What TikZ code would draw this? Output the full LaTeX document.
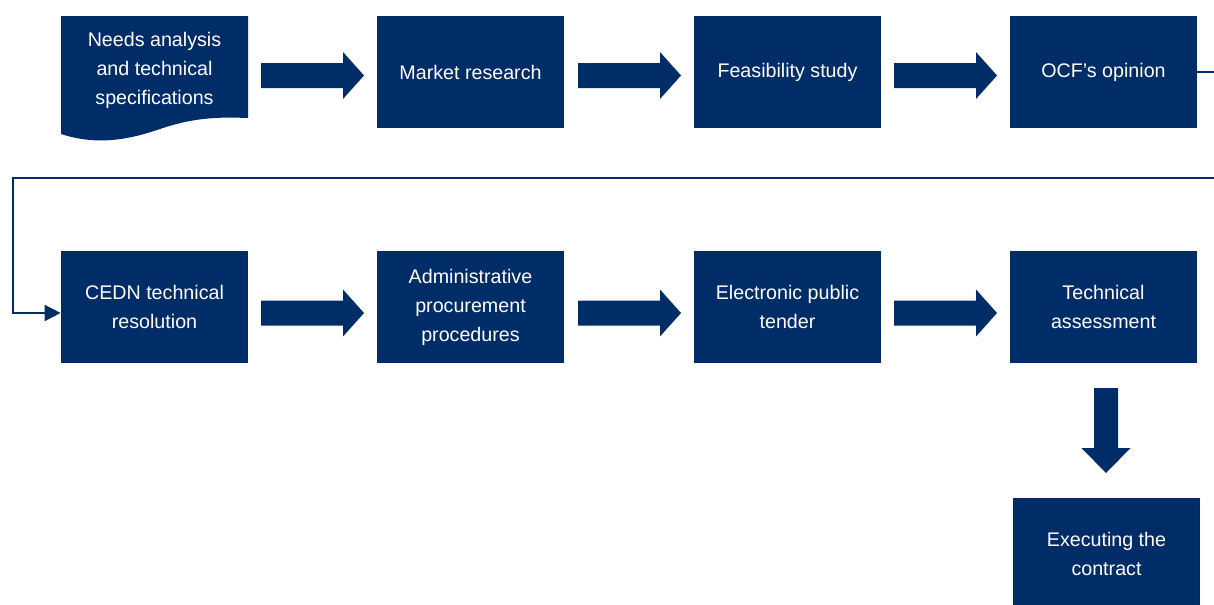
\documentclass[tikz,border=0pt]{standalone}
\usepackage{fontspec}
\setmainfont{Liberation Sans}
\usetikzlibrary{calc,arrows.meta}
\definecolor{navy}{RGB}{0,45,104}
\def\blockarrow(#1,#2){\fill[navy] (#1,#2) ++(0,-12.5) -- ++(82,0) -- ++(0,-11) -- ++(21,23.5) -- ++(-21,23.5) -- ++(0,-11) -- ++(-82,0) -- cycle;}
\tikzset{
	stepbox/.style={fill=navy, text=white, minimum width=3.74cm, minimum height=2.24cm, inner sep=0pt, align=center, font=\fontsize{11.2}{16.5}\selectfont},
	link/.style={draw=navy, line width=0.85pt, -{Triangle[length=0.32cm, width=0.32cm]}}
}

\begin{document}
\begin{tikzpicture}[x=0.02cm, y=-0.02cm]
			%%%%% START %%%%%
			\useasboundingbox (0, 0) rectangle (1214, 605);
			
			% first row
			\fill[navy] (61, 16) -- (248, 16) -- (248, 118) .. controls (220, 117) and (195, 117) .. (160, 129) .. controls (125, 141) and (95, 145) .. (61, 134) -- cycle;
			\node[font=\fontsize{11.2}{16.5}\selectfont, text=white, align=center] (needs) at (154.5, 70) {Needs analysis\\and technical\\specifications};
			\node[stepbox] (market) at (470.5, 72) {Market research};
			\node[stepbox] (feasib) at (787.5, 72) {Feasibility study};
			\node[stepbox] (ocf) at (1103.5, 72) {OCF’s opinion};
			
			\blockarrow(261, 75.5);
			\blockarrow(578, 75.5);
			\blockarrow(894, 75.5);
			
			% second row
			\node[stepbox] (cedn) at (154.5, 307) {CEDN technical\\resolution};
			\node[stepbox] (admin) at (470.5, 307) {Administrative\\procurement\\procedures};
			\node[stepbox] (tender) at (787.5, 307) {Electronic public\\tender};
			\node[stepbox] (assess) at (1103.5, 307) {Technical\\assessment};
			
			\blockarrow(261, 313);
			\blockarrow(578, 313);
			\blockarrow(894, 313);
			
			% return line
			\draw[link] (ocf.east) -- ++(19, 0) |- (13, 178) |- ($(cedn.west)+(0, 6)$);
			
			% last step
			\fill[navy] (1094, 388) -- (1118, 388) -- (1118, 448) -- (1130.5, 448) -- (1106, 473) -- (1081.5, 448) -- (1094, 448) -- cycle;
			\node[stepbox] (contract) at (1106.5, 554) {Executing the\\contract};
			%%%%% END %%%%%
\end{tikzpicture}
\end{document}
